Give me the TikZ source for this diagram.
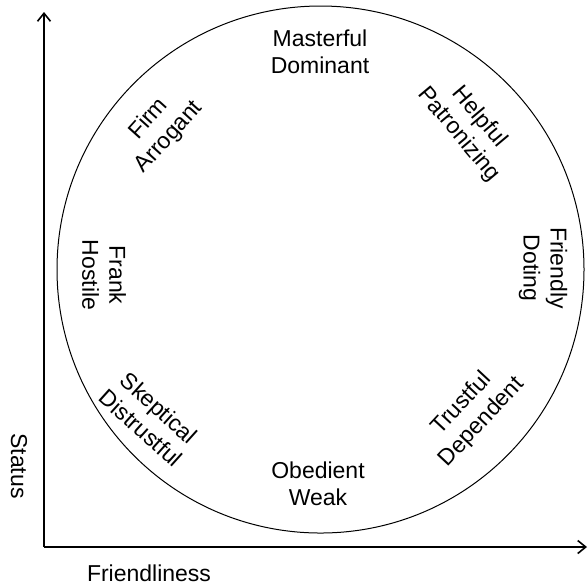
\documentclass[tikz,border=0pt]{standalone}
\usepackage{fontspec}
\setmainfont{Liberation Sans}
\usetikzlibrary{arrows.meta}
\begin{document}
\begin{tikzpicture}[x=0.5pt,y=-0.5pt,
  lbl/.style={align=center,font=\fontsize{11.5pt}{13.5pt}\selectfont,inner sep=0pt},
  axis/.style={line width=0.6pt,-{Straight Barb[length=4pt,width=6.5pt,line width=0.8pt]}}]
\useasboundingbox (0,0) rectangle (588,586);
\coordinate (O) at (44,547);
\coordinate (Ytop) at (44,12);
\coordinate (Xend) at (587,547);
\draw[axis] (O) -- (Ytop);
\draw[axis] (O) -- (Xend);
\node[draw,circle,line width=0.5pt,minimum size=263.5pt,inner sep=0pt] (circ) at (320.5,269.5) {};
\node[lbl] (md) at (320,52) {Masterful\\Dominant};
\node[lbl] (ow) at (318,484) {Obedient\\Weak};
\node[lbl,rotate=48] (fa) at (159,128) {Firm\\Arrogant};
\node[lbl,rotate=-50] (hp) at (469,126) {Helpful\\Patronizing};
\node[lbl,rotate=-90] (fh) at (104,275) {Frank\\Hostile};
\node[lbl,rotate=-90] (fd) at (543,268) {Friendly\\Doting};
\node[lbl,rotate=-42] (sd) at (150,418) {Skeptical\\Distrustful};
\node[lbl,rotate=47] (td) at (472,413) {Trustful\\Dependent};
\node[lbl,rotate=-90] (st) at (19,466) {Status};
\node[lbl] (fr) at (149,573) {Friendliness};
\end{tikzpicture}
\end{document}
